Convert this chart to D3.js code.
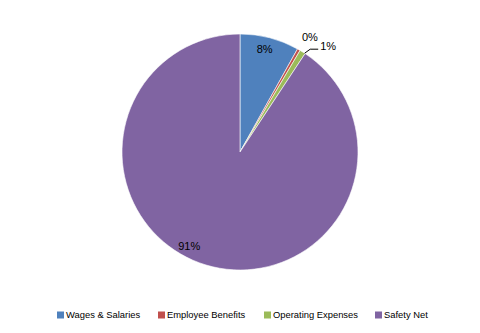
<!DOCTYPE html>
<html>
<head>
<meta charset="utf-8">
<script src="https://d3js.org/d3.v7.min.js"></script>
<style>
  body { margin: 0; background: #fff; }
  svg text { font-family: "Liberation Sans", "DejaVu Sans", sans-serif; fill: #000; }
</style>
</head>
<body>
<div id="chart"></div>
<script>
// data
const categories = ["Wages & Salaries", "Employee Benefits", "Operating Expenses", "Safety Net"];
const shares = [8.1, 0.4, 0.8, 90.7];
const labels = ["8%", "0%", "1%", "91%"];
const colors = ["#4F81BD", "#C0504D", "#9BBB59", "#8064A2"];

const width = 480, height = 333;
const cx = 240, cy = 152, radius = 118;

const svg = d3.select("#chart").append("svg")
  .attr("width", width)
  .attr("height", height);

const g = svg.append("g").attr("transform", `translate(${cx},${cy})`);

const data = categories.map((c, i) => ({ name: c, value: shares[i], label: labels[i], color: colors[i] }));

const pie = d3.pie().sort(null).value(d => d.value);
const arcs = pie(data);

const arc = d3.arc().innerRadius(0).outerRadius(radius);

g.selectAll("path.slice")
  .data(arcs)
  .join("path")
  .attr("class", "slice")
  .attr("d", arc)
  .attr("fill", d => d.data.color)
  .attr("stroke", "#fff")
  .attr("stroke-width", 0.6);

// label placement: inside for large slices, outside for thin ones
function polar(angle, r) {
  return [Math.sin(angle) * r, -Math.cos(angle) * r];
}

arcs.forEach((a, i) => {
  const mid = (a.startAngle + a.endAngle) / 2;
  let pos, anchor = "middle";
  if (i === 0) {
    pos = polar(mid - 0.02, radius * 0.9);
  } else if (i === 1) {
    pos = polar(mid + 0.025, radius * 1.14);
  } else if (i === 2) {
    const p0 = polar(mid + 0.02, radius);
    const p1 = polar(mid + 0.04, radius * 1.055);
    const p2 = [p1[0] + 8, p1[1]];
    g.append("polyline")
      .attr("points", [p0, p1, p2].map(p => p.join(",")).join(" "))
      .attr("fill", "none")
      .attr("stroke", "#000")
      .attr("stroke-width", 1);
    pos = [p2[0] + 2, p2[1] - 3];
    anchor = "start";
  } else {
    pos = polar(mid + 0.2, radius * 0.91);
  }
  g.append("text")
    .attr("x", pos[0])
    .attr("y", pos[1])
    .attr("dy", "0.35em")
    .attr("text-anchor", anchor)
    .attr("font-size", 11)
    .text(a.data.label);
});

// legend
const legendX = [57, 158, 264, 375];
const legend = svg.append("g").attr("transform", "translate(0,315)");
const item = legend.selectAll("g")
  .data(data)
  .join("g")
  .attr("transform", (d, i) => `translate(${legendX[i]},0)`);
item.append("rect")
  .attr("x", 0).attr("y", -3.5)
  .attr("width", 7).attr("height", 7)
  .attr("fill", d => d.color);
item.append("text")
  .attr("x", 9)
  .attr("dy", "0.35em")
  .attr("font-size", 9.4)
  .text(d => d.name);
</script>
</body>
</html>
